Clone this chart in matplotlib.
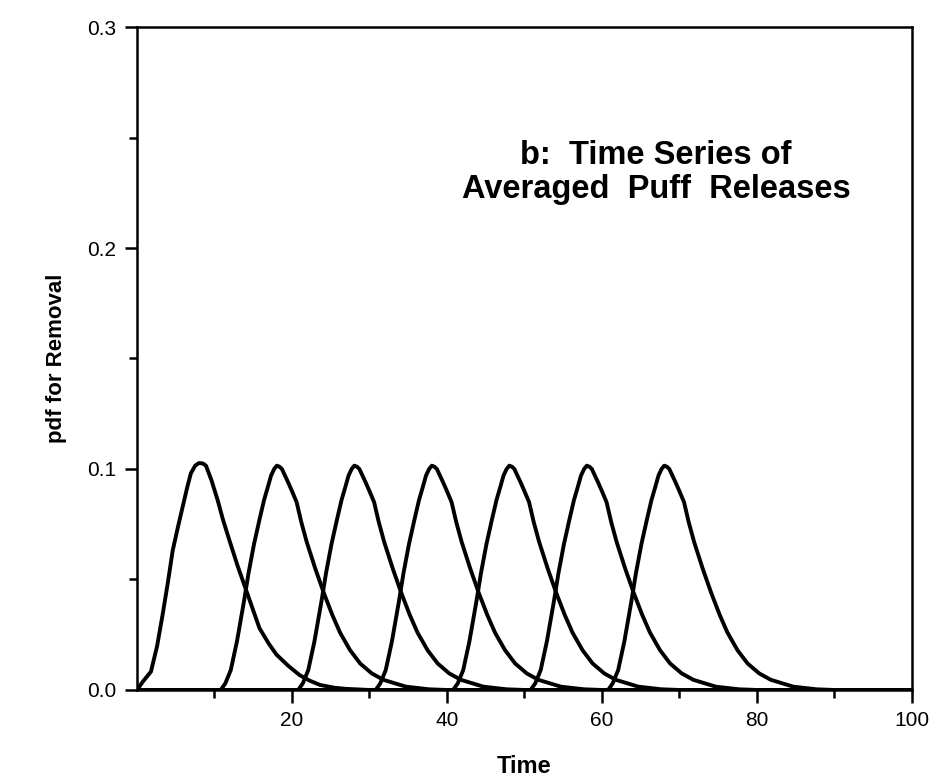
import matplotlib
matplotlib.use("Agg")
import matplotlib.pyplot as plt

# first release (t=0)
first_t = [0.0, 0.8, 1.8, 2.6, 3.3, 4.0, 4.6, 5.3, 5.9, 6.5, 6.95, 7.5, 8.0, 8.5, 8.9, 9.6,
           10.4, 11.1, 11.9, 13.0, 14.1, 15.0, 15.8, 17.0, 18.0, 19.5, 21.0, 22.3, 23.6, 25.5, 27.0, 30.0]
first_pdf = [0.0, 0.004, 0.0083, 0.020, 0.034, 0.049, 0.063, 0.074, 0.083, 0.092, 0.098, 0.1015, 0.1027,
             0.1025, 0.1015, 0.095, 0.086, 0.077, 0.068, 0.056, 0.045, 0.036, 0.028, 0.021, 0.016,
             0.011, 0.0067, 0.0042, 0.0023, 0.0010, 0.0005, 0.0]

# later releases: time after release vs pdf
shape_dt = [0.0, 0.8, 1.4, 2.1, 2.9, 3.8, 4.4, 5.1, 5.8, 6.4, 6.9, 7.3, 7.7, 8.05, 8.4, 8.7, 9.1, 9.5,
            10.0, 10.6, 11.2, 11.9, 13.0, 14.1, 15.2, 16.2, 17.5, 18.8, 20.3, 21.8, 24.7, 27.7, 30.0]
shape_pdf = [0.0, 0.0, 0.003, 0.009, 0.022, 0.040, 0.053, 0.066, 0.077, 0.086, 0.092, 0.097, 0.100,
             0.1015, 0.101, 0.100, 0.097, 0.094, 0.090, 0.085, 0.076, 0.067, 0.055, 0.044, 0.034,
             0.026, 0.018, 0.012, 0.0075, 0.0046, 0.0015, 0.0003, 0.0]

release_times = [10, 20, 30, 40, 50, 60]

x_ticks = [20, 40, 60, 80, 100]
x_minor = [10, 30, 50, 70, 90]
y_ticks = [0.0, 0.1, 0.2, 0.3]
y_labels = ["0.0", "0.1", "0.2", "0.3"]
y_minor = [0.05, 0.15, 0.25]

fig = plt.figure(figsize=(9.41, 7.83), dpi=100)
ax = fig.add_axes([0.1456, 0.1188, 0.8234, 0.8467])

lw = 2.8
ax.plot(first_t + [100.0], first_pdf + [0.0], color="black", lw=lw, solid_joinstyle="round")
for t0 in release_times:
    xs = [0.0] + [t0 + d for d in shape_dt] + [100.0]
    ys = [0.0] + shape_pdf + [0.0]
    ax.plot(xs, ys, color="black", lw=lw, solid_joinstyle="round")

ax.set_xlim(0, 100)
ax.set_ylim(0, 0.3)
ax.set_xticks(x_ticks)
ax.set_xticklabels([str(v) for v in x_ticks])
ax.set_xticks(x_minor, minor=True)
ax.set_yticks(y_ticks)
ax.set_yticklabels(y_labels)
ax.set_yticks(y_minor, minor=True)

for s in ax.spines.values():
    s.set_linewidth(1.8)
ax.tick_params(which="major", direction="out", length=9, width=1.8, labelsize=15, pad=6)
ax.tick_params(which="minor", direction="out", length=6, width=1.8)
ax.tick_params(top=False, right=False)
for lab in ax.get_xticklabels() + ax.get_yticklabels():
    lab.set_fontfamily("Liberation Sans")

ax.set_xlabel("Time", fontsize=17, fontweight="bold", family="Liberation Sans", labelpad=18)
ax.set_ylabel("pdf for Removal", fontsize=16, fontweight="bold", family="Liberation Sans", labelpad=14)

ax.text(0.67, 0.83, "b:  Time Series of\nAveraged  Puff  Releases", transform=ax.transAxes,
        ha="center", va="top", fontsize=23.5, fontweight="bold", family="Liberation Sans",
        linespacing=1.12)

fig.savefig("out.png", dpi=100)
